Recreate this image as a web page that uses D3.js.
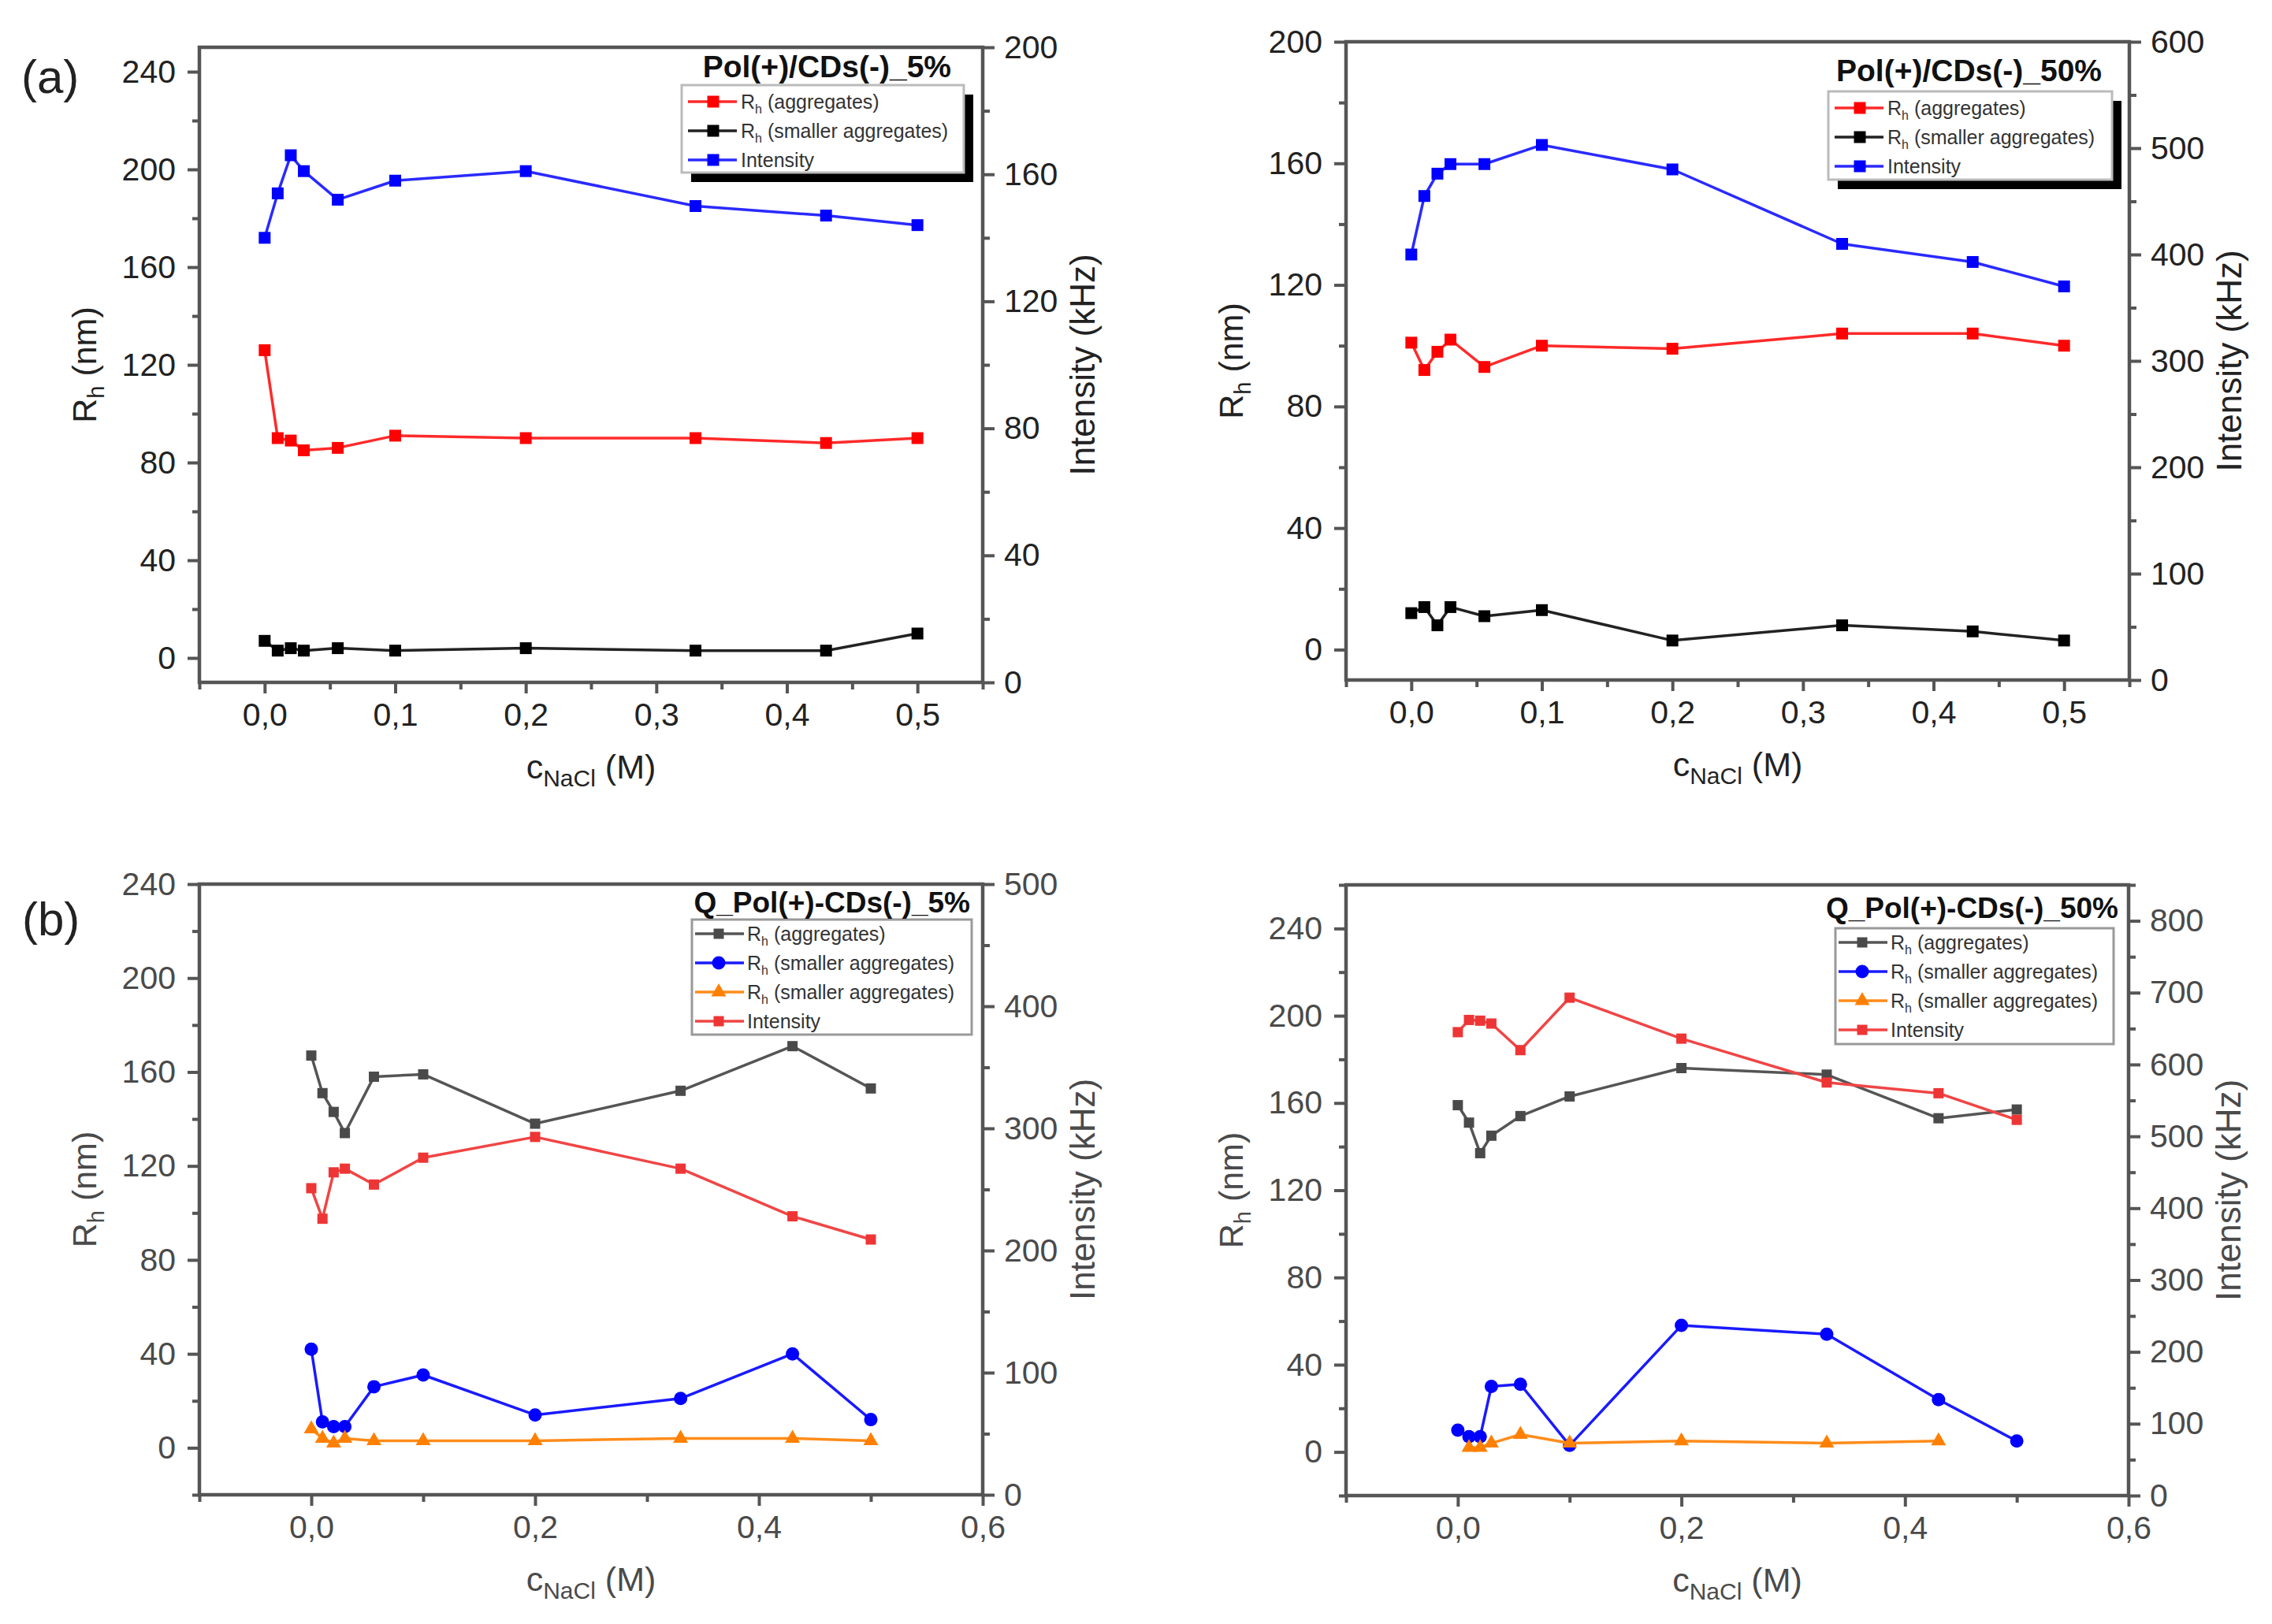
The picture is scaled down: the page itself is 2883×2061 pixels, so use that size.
<!DOCTYPE html>
<html><head><meta charset="utf-8">
<script src="https://cdn.jsdelivr.net/npm/d3@7"></script>
<style>body{margin:0;background:#fff}svg{display:block}</style>
</head><body><svg id="c" width="2883" height="2061"></svg>
<script>
// ---------------- DATA ----------------
const xConc = [0, 0.01, 0.02, 0.03, 0.056, 0.1, 0.2, 0.33, 0.43, 0.5];
const xConcB2Tri = [0.01, 0.02, 0.03, 0.056, 0.1, 0.2, 0.33, 0.43];

// (a) Pol(+)/CDs(-)_5%
const a1Agg   = [126, 90, 89, 85, 86, 91, 90, 90, 88, 90];
const a1Small = [7, 3, 4, 3, 4, 3, 4, 3, 3, 10];
const a1Int   = [140, 154, 166, 161, 152, 158, 161, 150, 147, 144];
// (a) Pol(+)/CDs(-)_50%
const a2Agg   = [101, 92, 98, 102, 93, 100, 99, 104, 104, 100];
const a2Small = [12, 14, 8, 14, 11, 13, 3, 8, 6, 3];
const a2Int   = [400, 455, 476, 485, 485, 503, 480, 410, 393, 370];
// (b) Q_Pol(+)-CDs(-)_5%
const b1Agg    = [167, 151, 143, 134, 158, 159, 138, 152, 171, 153];
const b1Small  = [42, 11, 9, 9, 26, 31, 14, 21, 40, 12];
const b1Small2 = [8, 4, 2, 4, 3, 3, 3, 4, 4, 3];
const b1Int    = [251, 226, 264, 267, 254, 276, 293, 267, 228, 209];
// (b) Q_Pol(+)-CDs(-)_50%
const b2Agg    = [159, 151, 137, 145, 154, 163, 176, 173, 153, 157];
const b2Small  = [10, 7, 7, 30, 31, 3, 58, 54, 24, 5];
const b2Small2 = [2, 2, 4, 8, 4, 5, 4, 5];
const b2Int    = [645, 662, 661, 657, 620, 693, 636, 575, 560, 523];

// tick labels
const xTicksA = [0, 0.1, 0.2, 0.3, 0.4, 0.5];
const xTicksB = [0, 0.2, 0.4, 0.6];
const rhTicksA1 = [0, 40, 80, 120, 160, 200, 240];
const intTicksA1 = [0, 40, 80, 120, 160, 200];
const rhTicksA2 = [0, 40, 80, 120, 160, 200];
const intTicksA2 = [0, 100, 200, 300, 400, 500, 600];
const rhTicksB = [0, 40, 80, 120, 160, 200, 240];
const intTicksB1 = [0, 100, 200, 300, 400, 500];
const intTicksB2 = [0, 100, 200, 300, 400, 500, 600, 700, 800];

const titles = ["Pol(+)/CDs(-)_5%", "Pol(+)/CDs(-)_50%", "Q_Pol(+)-CDs(-)_5%", "Q_Pol(+)-CDs(-)_50%"];
const lblAgg = [{t:"R"},{t:"h",sub:true},{t:" (aggregates)"}];
const lblSmall = [{t:"R"},{t:"h",sub:true},{t:" (smaller aggregates)"}];
const lblInt = [{t:"Intensity"}];

// ---------------- DRAW ----------------
const FONT = "'Liberation Sans', Arial, Helvetica, sans-serif";
const svg = d3.select('#c');
svg.append('rect').attr('width',2883).attr('height',2061).attr('fill','#fff');

const fmtX = d => d3.format('.1f')(d).replace('.', ',');

function minors(dom, majors, step){
  const out = [];
  const eps = 1e-9;
  const cand = new Set();
  majors.forEach(m => { cand.add(+(m - step/2).toFixed(6)); cand.add(+(m + step/2).toFixed(6)); });
  cand.forEach(v => { if (v >= dom[0]-eps && v <= dom[1]+eps && !majors.some(m=>Math.abs(m-v)<eps)) out.push(v); });
  return out.sort((a,b)=>a-b);
}

function rich(textSel, parts, subSize, shift){
  let cur = 0;
  parts.forEach(p => {
    const ts = textSel.append('tspan').text(p.t);
    const target = p.sub ? shift : 0;
    ts.attr('dy', target - cur);
    cur = target;
    if (p.sub) ts.attr('font-size', subSize);
  });
}

function symbolPath(type, size){
  if (type === 'square') return d3.symbol().type(d3.symbolSquare).size(size*size)();
  if (type === 'circle') return d3.symbol().type(d3.symbolCircle).size(Math.PI*size*size/4)();
  if (type === 'triangle') return d3.symbol().type(d3.symbolTriangle).size(Math.sqrt(3)/4*size*size)();
}

function styleAxis(a, color, fontColor){
  a.select('.domain').remove();
  a.selectAll('line').attr('stroke', color).attr('stroke-width', 4);
  a.selectAll('text').attr('font-family', FONT).attr('font-size', 41).attr('fill', fontColor);
}

function panel(c){
  const g = svg.append('g');
  const f = c.frame;
  const x = d3.scaleLinear().domain(c.xDom).range([f.x0, f.x1]);
  const yL = d3.scaleLinear().domain(c.yLDom).range([f.y1, f.y0]);
  const yR = d3.scaleLinear().domain(c.yRDom).range([f.y1, f.y0]);

  // axes
  const ax = g.append('g').attr('transform', `translate(0,${f.y1})`)
    .call(d3.axisBottom(x).tickValues(c.xTicks).tickFormat(fmtX).tickSize(14).tickPadding(12));
  styleAxis(ax, c.frameColor, c.tickColor);
  const axm = g.append('g').attr('transform', `translate(0,${f.y1})`)
    .call(d3.axisBottom(x).tickValues(minors(c.xDom, c.xTicks, c.xStep)).tickFormat('').tickSize(9));
  styleAxis(axm, c.frameColor, c.tickColor);

  const al = g.append('g').attr('transform', `translate(${f.x0},0)`)
    .call(d3.axisLeft(yL).tickValues(c.yLTicks).tickSize(15).tickPadding(15));
  styleAxis(al, c.frameColor, c.tickColor);
  const alm = g.append('g').attr('transform', `translate(${f.x0},0)`)
    .call(d3.axisLeft(yL).tickValues(minors(c.yLDom, c.yLTicks, c.yLStep)).tickFormat('').tickSize(9));
  styleAxis(alm, c.frameColor, c.tickColor);

  const ar = g.append('g').attr('transform', `translate(${f.x1},0)`)
    .call(d3.axisRight(yR).tickValues(c.yRTicks).tickSize(15).tickPadding(12));
  styleAxis(ar, c.frameColor, c.tickColor);
  const arm = g.append('g').attr('transform', `translate(${f.x1},0)`)
    .call(d3.axisRight(yR).tickValues(minors(c.yRDom, c.yRTicks, c.yRStep)).tickFormat('').tickSize(9));
  styleAxis(arm, c.frameColor, c.tickColor);

  // frame
  g.append('rect').attr('x', f.x0).attr('y', f.y0).attr('width', f.x1-f.x0).attr('height', f.y1-f.y0)
    .attr('fill','none').attr('stroke', c.frameColor).attr('stroke-width', 4.5);

  // series
  c.series.forEach(s => {
    const yS = s.axis === 'L' ? yL : yR;
    const pts = s.x.map((xv,i)=>[xv, s.y[i]]);
    g.append('path').datum(pts)
      .attr('d', d3.line().x(d=>x(d[0])).y(d=>yS(d[1])))
      .attr('fill','none').attr('stroke', s.line).attr('stroke-width', 3.5).attr('stroke-linejoin','round');
    g.selectAll(null).data(pts).enter().append('path')
      .attr('transform', d=>`translate(${x(d[0])},${yS(d[1])})`)
      .attr('d', symbolPath(s.sym, s.size)).attr('fill', s.color);
  });

  // legend
  const L = c.legend;
  if (L.shadow) g.append('rect').attr('x', L.x+12).attr('y', L.y+12).attr('width', L.w).attr('height', L.h).attr('fill','#000');
  g.append('rect').attr('x', L.x).attr('y', L.y).attr('width', L.w).attr('height', L.h)
    .attr('fill','#fff').attr('stroke', L.border).attr('stroke-width', 3);
  c.series.forEach((s,i) => {
    const cy = L.y + L.rowOff + i*37;
    g.append('line').attr('x1', L.x+L.s0).attr('x2', L.x+L.s1).attr('y1', cy).attr('y2', cy)
      .attr('stroke', s.line).attr('stroke-width', 3.5);
    g.append('path').attr('transform', `translate(${L.x+L.sm},${cy})`).attr('d', symbolPath(s.sym, s.size)).attr('fill', s.color);
    const t = g.append('text').attr('x', L.x+L.tx).attr('y', cy+9).attr('font-family', FONT)
      .attr('font-size', 25).attr('fill', '#333');
    rich(t, s.label, 16, 6);
  });
  g.append('text').attr('x', L.titleX).attr('y', L.titleY).attr('text-anchor','end')
    .attr('font-family', FONT).attr('font-weight','bold').attr('font-size', c.titleSize).attr('fill','#111').text(L.title);

  // axis titles (baselines measured from the frame)
  const cyMid = (f.y0 + f.y1) / 2;
  const lt = g.append('text').attr('transform', `translate(${f.x0-131},${cyMid}) rotate(-90)`)
    .attr('text-anchor','middle').attr('font-family', FONT).attr('font-size', 43).attr('fill', c.tickColor);
  rich(lt, [{t:"R"},{t:"h",sub:true},{t:" (nm)"}], 29, 10);
  g.append('text').attr('transform', `translate(${f.x1+142},${cyMid}) rotate(-90)`)
    .attr('text-anchor','middle').attr('font-family', FONT).attr('font-size', 44).attr('fill', c.tickColor)
    .text('Intensity (kHz)');
  const xt = g.append('text').attr('x', (f.x0+f.x1)/2).attr('y', f.y1+122)
    .attr('text-anchor','middle').attr('font-family', FONT).attr('font-size', 43).attr('fill', c.tickColor);
  rich(xt, [{t:"c"},{t:"NaCl",sub:true},{t:" (M)"}], 30, 10);
}

const legA = {s0:8, s1:70, sm:40, tx:75, border:'#bbb', shadow:true, rowOff:21};
const legB = {s0:4, s1:66, sm:34, tx:70, border:'#999', shadow:false, rowOff:18};

const panels = [
 { frame:{x0:253,y0:60,x1:1247,y1:866}, xDom:[-0.05,0.55], xTicks:xTicksA, xStep:0.1,
   yLDom:[-10,250], yLTicks:rhTicksA1, yLStep:40, yRDom:[0,200], yRTicks:intTicksA1, yRStep:40,
   tickColor:'#222', frameColor:'#555', titleSize:39,
   series:[
     {x:xConc, y:a1Agg, axis:'L', color:'#ff0000', line:'#ff2a2a', sym:'square', size:15, label:lblAgg},
     {x:xConc, y:a1Small, axis:'L', color:'#000000', line:'#222', sym:'square', size:15, label:lblSmall},
     {x:xConc, y:a1Int, axis:'R', color:'#0000ff', line:'#2a2aff', sym:'square', size:15, label:lblInt}],
   legend:Object.assign({}, legA, {x:865,y:108,w:358,h:111,title:titles[0],titleX:1207,titleY:98}) },
 { frame:{x0:1708,y0:53,x1:2702,y1:863}, xDom:[-0.05,0.55], xTicks:xTicksA, xStep:0.1,
   yLDom:[-10,200], yLTicks:rhTicksA2, yLStep:40, yRDom:[0,600], yRTicks:intTicksA2, yRStep:100,
   tickColor:'#222', frameColor:'#555', titleSize:39,
   series:[
     {x:xConc, y:a2Agg, axis:'L', color:'#ff0000', line:'#ff2a2a', sym:'square', size:15, label:lblAgg},
     {x:xConc, y:a2Small, axis:'L', color:'#000000', line:'#222', sym:'square', size:15, label:lblSmall},
     {x:xConc, y:a2Int, axis:'R', color:'#0000ff', line:'#2a2aff', sym:'square', size:15, label:lblInt}],
   legend:Object.assign({}, legA, {x:2320,y:116,w:360,h:112,title:titles[1],titleX:2667,titleY:103}) },
 { frame:{x0:253,y0:1122,x1:1247,y1:1897}, xDom:[-0.1,0.6], xTicks:xTicksB, xStep:0.2,
   yLDom:[-20,240], yLTicks:rhTicksB, yLStep:40, yRDom:[0,500], yRTicks:intTicksB1, yRStep:100,
   tickColor:'#4a4a4a', frameColor:'#555', titleSize:37,
   series:[
     {x:xConc, y:b1Agg, axis:'L', color:'#4a4a4a', line:'#555', sym:'square', size:13, label:lblAgg},
     {x:xConc, y:b1Small, axis:'L', color:'#0000ff', line:'#1a1aff', sym:'circle', size:17, label:lblSmall},
     {x:xConc, y:b1Small2, axis:'L', color:'#ff8000', line:'#ff8c1a', sym:'triangle', size:19, label:lblSmall},
     {x:xConc, y:b1Int, axis:'R', color:'#ee3535', line:'#f04545', sym:'square', size:13, label:lblInt}],
   legend:Object.assign({}, legB, {x:878,y:1167,w:355,h:146,title:titles[2],titleX:1231,titleY:1158}) },
 { frame:{x0:1708,y0:1123,x1:2701,y1:1898}, xDom:[-0.1,0.6], xTicks:xTicksB, xStep:0.2,
   yLDom:[-20,260], yLTicks:rhTicksB, yLStep:40, yRDom:[0,850], yRTicks:intTicksB2, yRStep:100,
   tickColor:'#4a4a4a', frameColor:'#555', titleSize:37,
   series:[
     {x:xConc, y:b2Agg, axis:'L', color:'#4a4a4a', line:'#555', sym:'square', size:13, label:lblAgg},
     {x:xConc, y:b2Small, axis:'L', color:'#0000ff', line:'#1a1aff', sym:'circle', size:17, label:lblSmall},
     {x:xConcB2Tri, y:b2Small2, axis:'L', color:'#ff8000', line:'#ff8c1a', sym:'triangle', size:19, label:lblSmall},
     {x:xConc, y:b2Int, axis:'R', color:'#ee3535', line:'#f04545', sym:'square', size:13, label:lblInt}],
   legend:Object.assign({}, legB, {x:2329,y:1178,w:353,h:147,title:titles[3],titleX:2688,titleY:1165}) }
];

panels.forEach(panel);

svg.append('text').attr('x', 27).attr('y', 118).attr('font-family', FONT).attr('font-size', 60).attr('fill','#222').text('(a)');
svg.append('text').attr('x', 28).attr('y', 1187).attr('font-family', FONT).attr('font-size', 60).attr('fill','#222').text('(b)');
</script></body></html>
